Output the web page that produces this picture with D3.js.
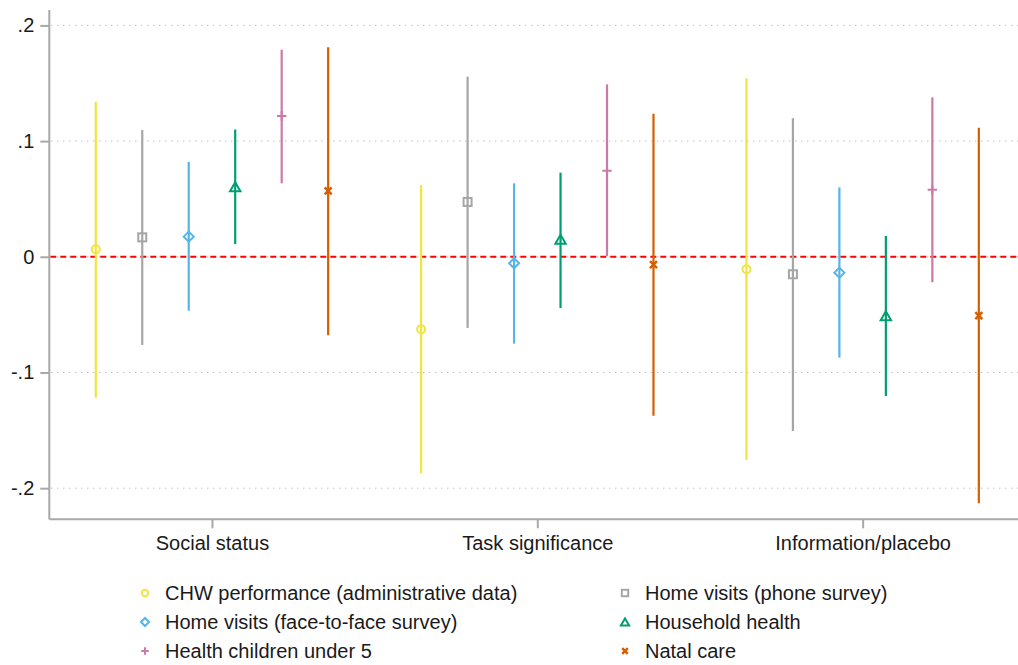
<!DOCTYPE html>
<html><head><meta charset="utf-8">
<script src="https://cdn.jsdelivr.net/npm/d3@7"></script>
<style>body{margin:0;background:#fff}text{font-family:"Liberation Sans",Arial,Helvetica,sans-serif;fill:#1a1a1a}</style>
</head><body><svg id="c" width="1018" height="665"></svg>
<script>
const groups = ["Social status", "Task significance", "Information/placebo"];
const seriesNames = [
  "CHW performance (administrative data)",
  "Home visits (phone survey)",
  "Home visits (face-to-face survey)",
  "Household health",
  "Health children under 5",
  "Natal care"
];
const seriesColors = ["#F0E442", "#A6A6A6", "#56B4E9", "#009E73", "#CC79A7", "#D55E00"];
const seriesMarkers = ["circle", "square", "diamond", "triangle", "plus", "cross"];
// values per series, per group
const estimates = [
  [0.0065, -0.0627, -0.0108],
  [0.0168, 0.0474, -0.0151],
  [0.0174, -0.0056, -0.0137],
  [0.0606, 0.0151, -0.0509],
  [0.1217, 0.0744, 0.0580],
  [0.0569, -0.0068, -0.0509]
];
const lower = [
  [-0.1218, -0.1870, -0.1756],
  [-0.0762, -0.0615, -0.1506],
  [-0.0466, -0.0751, -0.0872],
  [0.0110, -0.0443, -0.1203],
  [0.0635, 0.0007, -0.0220],
  [-0.0679, -0.1373, -0.2130]
];
const upper = [
  [0.1340, 0.0620, 0.1543],
  [0.1096, 0.1557, 0.1197],
  [0.0819, 0.0635, 0.0600],
  [0.1100, 0.0727, 0.0180],
  [0.1790, 0.1490, 0.1378],
  [0.1810, 0.1237, 0.1116]
];
const yTicks = [-0.2, -0.1, 0, 0.1, 0.2];
const yTickLabels = ["-.2", "-.1", "0", ".1", ".2"];

(function () {
const svg = d3.select("#c");
const pLeft = 49.3, pTop = 10, pBottom = 519.3;
const y = d3.scaleLinear().domain([-0.2269, 0.2133]).range([pBottom, pTop]);
const x = d3.scaleLinear().domain([0.5, 3.5]).range([pLeft, 1025.3]);
const nS = seriesNames.length;
const pos = (g, i) => x(g + 1 + (i - (nS - 1) / 2) / 7);

// gridlines
svg.append("g").selectAll("line").data(yTicks).join("line")
  .attr("x1", pLeft + 2).attr("x2", 1018)
  .attr("y1", d => y(d)).attr("y2", d => y(d))
  .attr("stroke", "#a0a0a0").attr("stroke-width", 1)
  .attr("stroke-dasharray", "1,5");

// zero reference line
svg.append("line").attr("x1", pLeft + 1).attr("x2", 1018)
  .attr("y1", y(0)).attr("y2", y(0))
  .attr("stroke", "#FF0000").attr("stroke-width", 2)
  .attr("stroke-dasharray", "6,4");

// axes
const yAxis = d3.axisLeft(y).tickValues(yTicks).tickFormat((d, i) => yTickLabels[i]).tickSize(9).tickPadding(6);
const gy = svg.append("g").attr("transform", `translate(${pLeft},0)`).call(yAxis);
gy.select(".domain").attr("d", `M0,${pTop}V${pBottom}`);
const xAxis = d3.axisBottom(x).tickValues([1, 2, 3]).tickFormat(d => groups[d - 1]).tickSize(9).tickPadding(8);
const gx = svg.append("g").attr("transform", `translate(0,${pBottom})`).call(xAxis);
gx.select(".domain").attr("d", `M${pLeft},0H1018`);
[gx, gy].forEach(g => {
  g.selectAll(".domain").attr("stroke", "#a8a8a8").attr("stroke-width", 2);
  g.selectAll(".tick line").attr("stroke", "#a8a8a8").attr("stroke-width", 2);
  g.selectAll("text").attr("font-size", 20).attr("fill", "#1a1a1a")
    .attr("font-family", "'Liberation Sans', Arial, sans-serif");
});

function marker(sel, type, color, s) {
  const sw = 2;
  if (type === "circle") sel.append("circle").attr("r", 4 * s).attr("fill", "none").attr("stroke", color).attr("stroke-width", sw);
  else if (type === "square") sel.append("rect").attr("x", -4 * s).attr("y", -4 * s).attr("width", 8 * s).attr("height", 8 * s).attr("fill", "none").attr("stroke", color).attr("stroke-width", sw);
  else if (type === "diamond") sel.append("path").attr("d", `M0,${-5 * s}L${5 * s},0L0,${5 * s}L${-5 * s},0Z`).attr("fill", "none").attr("stroke", color).attr("stroke-width", sw);
  else if (type === "triangle") sel.append("path").attr("d", `M0,${-4.5 * s}L${5.2 * s},${4.5 * s}L${-5.2 * s},${4.5 * s}Z`).attr("fill", "none").attr("stroke", color).attr("stroke-width", sw);
  else if (type === "plus") sel.append("path").attr("d", `M${-4.7 * s},0H${4.7 * s}M0,${-4.7 * s}V${4.7 * s}`).attr("stroke", color).attr("stroke-width", sw);
  else if (type === "cross") sel.append("path").attr("d", `M${-3.5 * s},${-3.5 * s}L${3.5 * s},${3.5 * s}M${3.5 * s},${-3.5 * s}L${-3.5 * s},${3.5 * s}`).attr("stroke", color).attr("stroke-width", sw + 0.5);
}

// CI lines and markers
seriesNames.forEach((name, i) => {
  const g = svg.append("g");
  groups.forEach((grp, j) => {
    const px = pos(j, i);
    g.append("line").attr("x1", px).attr("x2", px)
      .attr("y1", y(lower[i][j])).attr("y2", y(upper[i][j]))
      .attr("stroke", seriesColors[i]).attr("stroke-width", 2.2);
    const m = g.append("g").attr("transform", `translate(${px},${y(estimates[i][j])})`);
    marker(m, seriesMarkers[i], seriesColors[i], 1);
  });
});

// legend
const legX = [145, 625], legY = [593, 622, 651];
seriesNames.forEach((name, i) => {
  const cx = legX[i % 2], cy = legY[Math.floor(i / 2)];
  const m = svg.append("g").attr("transform", `translate(${cx},${cy})`);
  marker(m, seriesMarkers[i], seriesColors[i], 0.8);
  svg.append("text").attr("x", cx + 20).attr("y", cy + 7).attr("font-size", 20).text(name);
});
})();
</script></body></html>
